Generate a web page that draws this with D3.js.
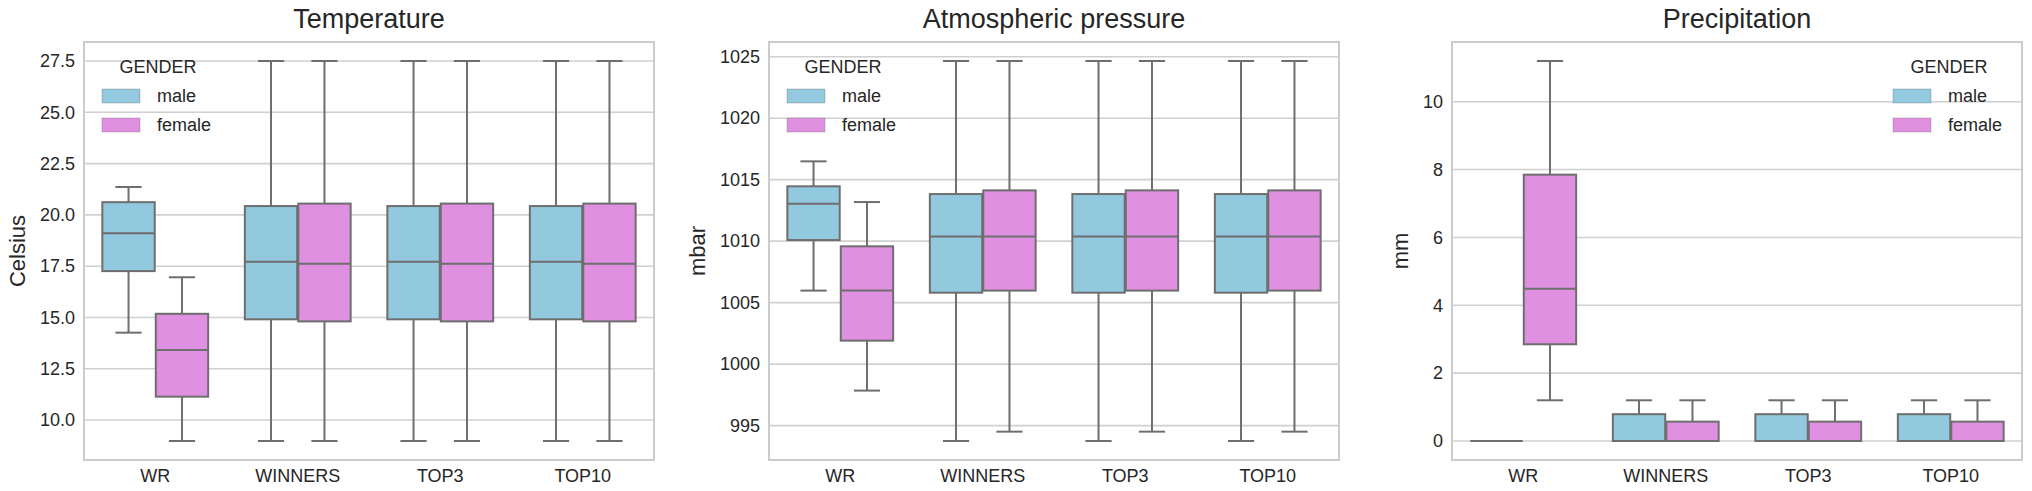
<!DOCTYPE html>
<html>
<head>
<meta charset="utf-8">
<title>Weather boxplots</title>
<script src="https://cdn.jsdelivr.net/npm/d3@7"></script>
<style>
  body { margin: 0; background: #fff; }
  text { font-family: "Liberation Sans", Arial, sans-serif; fill: #262626; }
</style>
</head>
<body>
<script>
// categories and hue groups
var categories = ["WR", "WINNERS", "TOP3", "TOP10"];
var genders = ["male", "female"];

// box stats per category: [lower whisker, q1, median, q3, upper whisker]
var tempMale   = [[14.26, 17.26, 19.1, 20.62, 21.36], [8.98, 14.91, 17.72, 20.43, 27.5], [8.98, 14.91, 17.72, 20.43, 27.5], [8.98, 14.91, 17.72, 20.43, 27.5]];
var tempFemale = [[8.98, 11.14, 13.41, 15.18, 16.96], [8.98, 14.81, 17.62, 20.55, 27.5], [8.98, 14.81, 17.62, 20.55, 27.5], [8.98, 14.81, 17.62, 20.55, 27.5]];

var presMale   = [[1005.98, 1010.09, 1013.05, 1014.46, 1016.49], [993.75, 1005.81, 1010.37, 1013.83, 1024.65], [993.75, 1005.81, 1010.37, 1013.83, 1024.65], [993.75, 1005.81, 1010.37, 1013.83, 1024.65]];
var presFemale = [[997.85, 1001.91, 1005.98, 1009.58, 1013.18], [994.51, 1005.98, 1010.37, 1014.13, 1024.65], [994.51, 1005.98, 1010.37, 1014.13, 1024.65], [994.51, 1005.98, 1010.37, 1014.13, 1024.65]];

var precMale   = [[0, 0, 0, 0, 0], [0, 0, 0, 0.79, 1.2], [0, 0, 0, 0.79, 1.2], [0, 0, 0, 0.79, 1.2]];
var precFemale = [[1.2, 2.85, 4.49, 7.85, 11.2], [0, 0, 0, 0.57, 1.2], [0, 0, 0, 0.57, 1.2], [0, 0, 0, 0.57, 1.2]];

// tick labels
var tempTicks = [10.0, 12.5, 15.0, 17.5, 20.0, 22.5, 25.0, 27.5];
var presTicks = [995, 1000, 1005, 1010, 1015, 1020, 1025];
var precTicks = [0, 2, 4, 6, 8, 10];

var panels = [
  { title: "Temperature", ylabel: "Celsius", series: [tempMale, tempFemale], ticks: tempTicks, fmt: ".1f", legend: "left" },
  { title: "Atmospheric pressure", ylabel: "mbar", series: [presMale, presFemale], ticks: presTicks, fmt: "d", legend: "left" },
  { title: "Precipitation", ylabel: "mm", series: [precMale, precFemale], ticks: precTicks, fmt: "d", legend: "right" }
];

var W = 2032, H = 491;
var panelLeft = [84, 769, 1452], pw = 570, plotTop = 42, plotBottom = 460;
var colors = ["#93c9de", "#e090e0"];
var gray = "#6e6e6e";

var svg = d3.select("body").append("svg")
  .attr("width", W)
  .attr("height", H);

panels.forEach(function (p, pi) {
  var x0 = panelLeft[pi];
  var g = svg.append("g");

  // y domain like matplotlib: data extent with 5% margin
  var all = [];
  p.series.forEach(function (s) { s.forEach(function (b) { all = all.concat(b); }); });
  var lo = d3.min(all), hi = d3.max(all), pad = (hi - lo) * 0.05;
  var y = d3.scaleLinear().domain([lo - pad, hi + pad]).range([plotBottom, plotTop]);
  var x = d3.scaleBand().domain(categories).range([x0, x0 + pw]).padding(0);
  var hue = d3.scaleBand().domain(genders).range([-0.375, 0.375]);
  var bw = x.bandwidth();
  var boxW = 0.3675 * bw;

  // grid
  g.selectAll(".grid").data(p.ticks).enter().append("line")
    .attr("x1", x0).attr("x2", x0 + pw)
    .attr("y1", function (d) { return y(d); })
    .attr("y2", function (d) { return y(d); })
    .attr("stroke", "#d0d0d0").attr("stroke-width", 1.6);

  // frame
  g.append("rect")
    .attr("x", x0).attr("y", plotTop).attr("width", pw).attr("height", plotBottom - plotTop)
    .attr("fill", "none").attr("stroke", "#cccccc").attr("stroke-width", 2);

  // axes, tick lines removed, labels only
  var yAxis = g.append("g")
    .attr("transform", "translate(" + x0 + ",0)")
    .call(d3.axisLeft(y).tickValues(p.ticks).tickFormat(d3.format(p.fmt)).tickSize(0).tickPadding(9));
  yAxis.select(".domain").remove();
  yAxis.selectAll("text").attr("font-size", 18).attr("fill", "#262626")
    .attr("font-family", "Liberation Sans, Arial, sans-serif");

  var xAxis = g.append("g")
    .attr("transform", "translate(0," + plotBottom + ")")
    .call(d3.axisBottom(x).tickSize(0).tickPadding(9));
  xAxis.select(".domain").remove();
  xAxis.selectAll("text").attr("font-size", 18).attr("fill", "#262626")
    .attr("font-family", "Liberation Sans, Arial, sans-serif");

  // boxes
  p.series.forEach(function (s, gi) {
    s.forEach(function (b, ci) {
      var cx = x(categories[ci]) + bw / 2 + (hue(genders[gi]) + hue.bandwidth() / 2) * bw;
      var bg = g.append("g");
      bg.append("line").attr("x1", cx).attr("x2", cx).attr("y1", y(b[0])).attr("y2", y(b[1]))
        .attr("stroke", gray).attr("stroke-width", 2);
      bg.append("line").attr("x1", cx).attr("x2", cx).attr("y1", y(b[3])).attr("y2", y(b[4]))
        .attr("stroke", gray).attr("stroke-width", 2);
      bg.append("rect")
        .attr("x", cx - boxW / 2).attr("width", boxW)
        .attr("y", y(b[3])).attr("height", y(b[1]) - y(b[3]))
        .attr("fill", colors[gi]).attr("stroke", gray).attr("stroke-width", 2);
      bg.append("line").attr("x1", cx - boxW / 2).attr("x2", cx + boxW / 2)
        .attr("y1", y(b[2])).attr("y2", y(b[2]))
        .attr("stroke", gray).attr("stroke-width", 2);
      [b[0], b[4]].forEach(function (v) {
        bg.append("line").attr("x1", cx - boxW / 4).attr("x2", cx + boxW / 4)
          .attr("y1", y(v)).attr("y2", y(v))
          .attr("stroke", gray).attr("stroke-width", 2);
      });
    });
  });

  // title + y label
  g.append("text")
    .attr("x", x0 + pw / 2).attr("y", 28)
    .attr("text-anchor", "middle").attr("font-size", 27)
    .text(p.title);

  var tickLeft = d3.min(yAxis.selectAll("text").nodes(), function (n) { return n.getBoundingClientRect().left; });
  g.append("text")
    .attr("transform", "translate(" + (tickLeft - 15) + "," + ((plotTop + plotBottom) / 2) + ") rotate(-90)")
    .attr("text-anchor", "middle").attr("font-size", 22)
    .text(p.ylabel);

  // legend
  var lx = p.legend === "left" ? x0 + 18 : x0 + pw - 129;
  var lg = g.append("g").attr("transform", "translate(" + lx + ",0)");
  lg.append("text").attr("x", 56).attr("y", 73).attr("text-anchor", "middle")
    .attr("font-size", 18).text("GENDER");
  genders.forEach(function (gname, gi) {
    lg.append("rect").attr("x", 0).attr("y", 89 + gi * 29).attr("width", 38).attr("height", 14)
      .attr("fill", colors[gi]).attr("stroke", gray).attr("stroke-opacity", 0.35).attr("stroke-width", 1);
    lg.append("text").attr("x", 55).attr("y", 102 + gi * 29)
      .attr("font-size", 18).text(gname);
  });
});
</script>
</body>
</html>
